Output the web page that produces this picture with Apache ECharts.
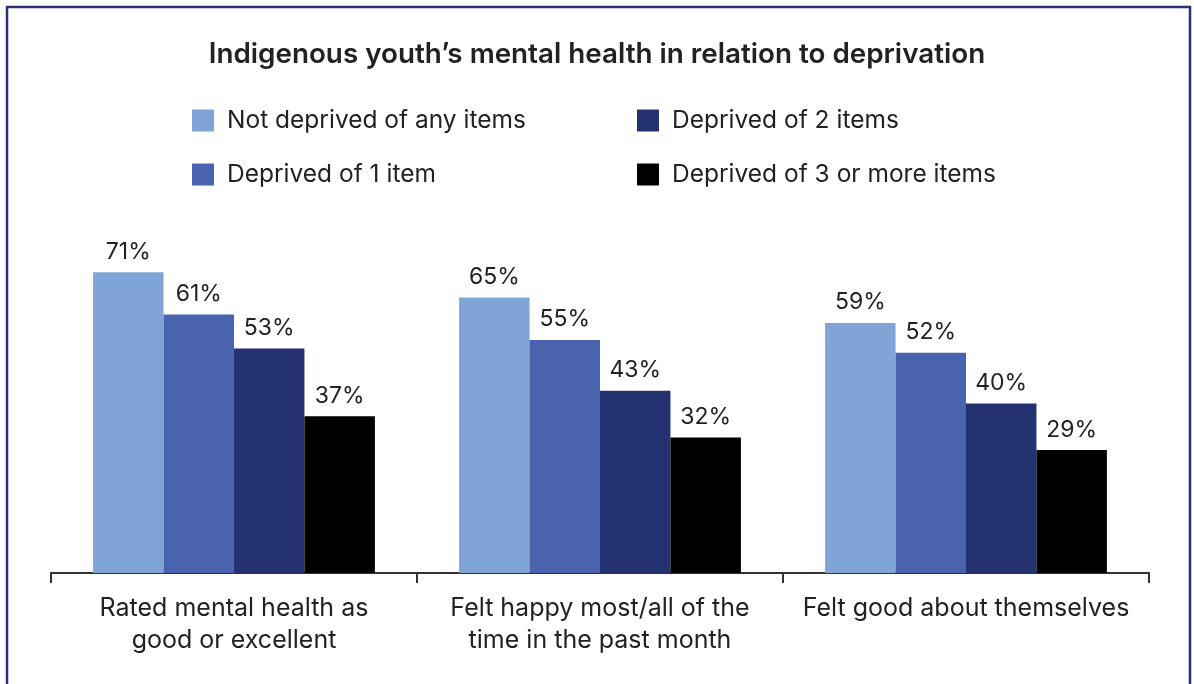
<!DOCTYPE html>
<html>
<head>
<meta charset="utf-8">
<script src="https://cdn.jsdelivr.net/npm/echarts@6/dist/echarts.min.js"></script>
<style>html,body{margin:0;padding:0;background:#fff;}#c{width:1194px;height:684px;}</style>
</head>
<body>
<div id="c"></div>
<script>
const categories = ["Rated mental health as\ngood or excellent", "Felt happy most/all of the\ntime in the past month", "Felt good about themselves"];
const seriesNames = ["Not deprived of any items", "Deprived of 1 item", "Deprived of 2 items", "Deprived of 3 or more items"];
const notDeprived = [71, 65, 59];
const deprived1 = [61, 55, 52];
const deprived2 = [53, 43, 40];
const deprived3plus = [37, 32, 29];
const colors = ["#80a4d6", "#4a63ae", "#253272", "#000000"];

const values = [notDeprived, deprived1, deprived2, deprived3plus];
const chart = echarts.init(document.getElementById('c'), null, {renderer: 'canvas'});
const font = 'Inter, Roboto, "Noto Sans", sans-serif';
chart.setOption({
  animation: false,
  textStyle: {fontFamily: font},
  title: {
    text: "Indigenous youth\u2019s mental health in relation to deprivation",
    left: 'center', top: 36,
    textStyle: {fontSize: 27.8, fontWeight: 600, color: '#222', fontFamily: font}
  },
  legend: [
    {data: [seriesNames[0], seriesNames[1]], orient: 'vertical', left: 187, top: 103, itemWidth: 22, itemHeight: 22, itemGap: 29, icon: 'rect',
     textStyle: {fontSize: 24.5, color: '#222', padding: [0,0,0,8]}},
    {data: [seriesNames[2], seriesNames[3]], orient: 'vertical', left: 632, top: 103, itemWidth: 22, itemHeight: 22, itemGap: 29, icon: 'rect',
     textStyle: {fontSize: 24.5, color: '#222', padding: [0,0,0,8]}}
  ],
  grid: {left: 51, right: 45, top: 234, bottom: 111, containLabel: false},
  xAxis: {
    type: 'category', data: categories,
    axisLine: {lineStyle: {color: '#333', width: 2}},
    axisTick: {show: true, length: 10, lineStyle: {color: '#333', width: 2}},
    axisLabel: {fontSize: 25, color: '#222', lineHeight: 32, margin: 19, interval: 0}
  },
  yAxis: {type: 'value', min: 0, max: 80, show: false, splitLine: {show: false}},
  graphic: [{
    type: 'rect', shape: {x: 7, y: 7, width: 1183, height: 700},
    style: {fill: 'none', stroke: '#2b3273', lineWidth: 2.5}, silent: true
  }],
  series: values.map((v, i) => ({
    name: seriesNames[i], type: 'bar', data: v,
    barGap: 0, barCategoryGap: '23%',
    itemStyle: {color: colors[i]},
    label: {show: true, position: 'top', distance: 9, formatter: '{c}%', fontSize: 23, color: '#222'}
  }))
});
</script>
</body>
</html>
